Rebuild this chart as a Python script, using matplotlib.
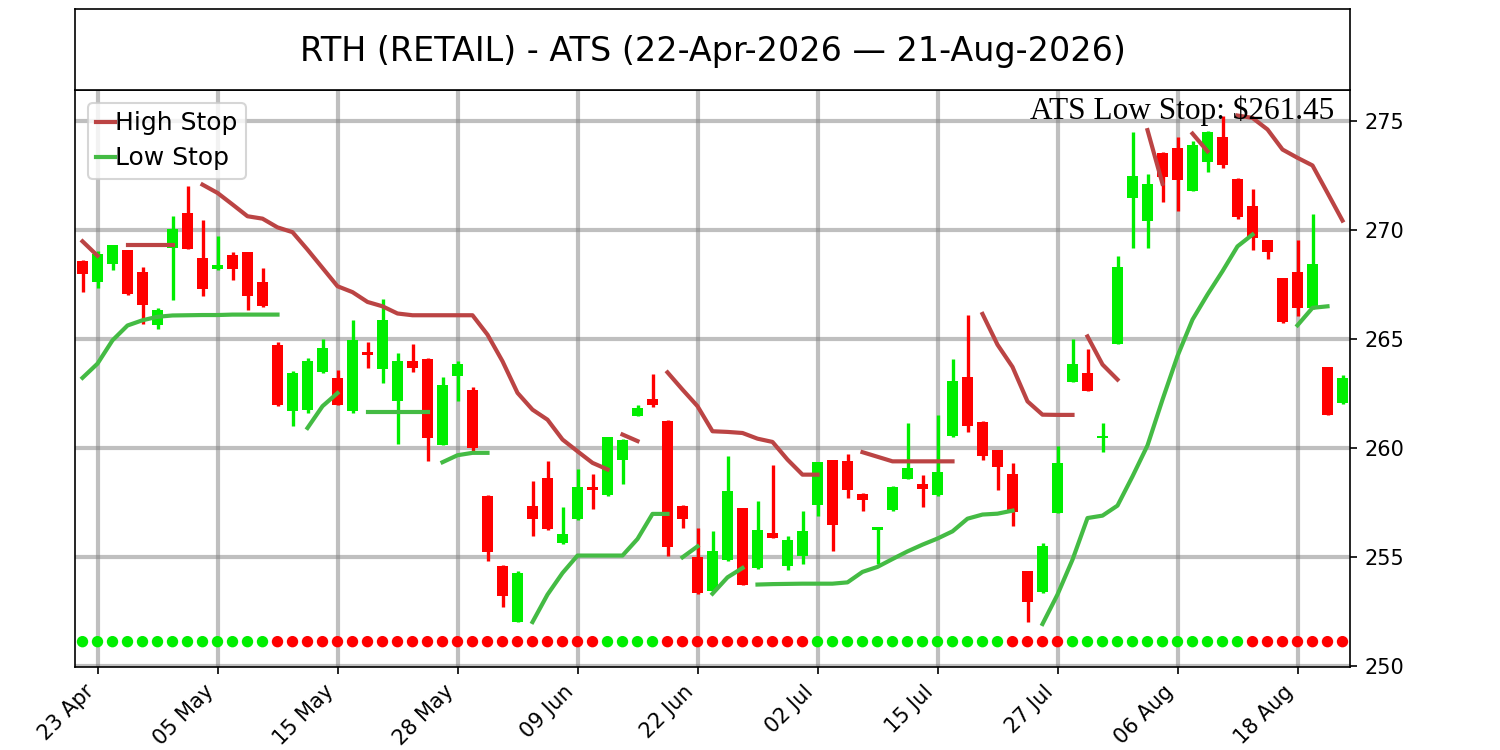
import matplotlib
matplotlib.use("Agg")
import matplotlib.pyplot as plt
import numpy as np
import pandas as pd

# trading days 22-Apr-2026 .. 21-Aug-2026 (US market holidays removed)
holidays = ["2026-05-25", "2026-06-19", "2026-07-03"]
dates = pd.bdate_range("2026-04-22", "2026-08-21", freq="C", holidays=holidays)

opens = [268.55, 267.6, 268.43, 269.04, 268.04, 265.6, 269.16, 270.77, 268.7, 268.17,
         268.82, 268.98, 267.6, 264.72, 261.67, 261.71, 263.45, 263.2, 261.67, 264.4,
         263.6, 262.12, 263.99, 264.08, 260.14, 263.27, 262.66, 257.8, 254.59, 251.99,
         257.34, 258.61, 255.63, 256.73, 258.18, 257.81, 259.45, 261.47, 262.25, 261.24,
         257.34, 254.99, 253.41, 254.83, 257.23, 254.48, 256.09, 254.56, 255.05, 257.39,
         259.45, 259.37, 257.88, 256.24, 257.12, 258.56, 258.35, 257.81, 260.52, 263.24,
         261.16, 259.88, 258.81, 254.36, 253.38, 257.0, 263.0, 263.43, 260.44, 264.76,
         271.45, 270.41, 273.52, 273.75, 271.76, 273.1, 274.25, 272.33, 271.07, 269.5,
         267.78, 268.04, 266.38, 263.68, 262.05]
highs = [268.6, 269.0, 269.3, 269.05, 268.3, 266.4, 270.6, 272.0, 270.46, 269.7,
         268.96, 268.98, 268.24, 264.85, 263.53, 264.11, 264.99, 263.58, 265.84, 264.83,
         266.82, 264.34, 264.77, 264.1, 263.24, 263.96, 262.77, 257.82, 254.6, 254.36,
         258.45, 259.37, 257.28, 259.04, 258.81, 260.5, 260.4, 261.97, 263.39, 261.25,
         257.35, 256.32, 256.16, 259.6, 257.25, 257.54, 259.19, 255.96, 257.08, 259.35,
         259.45, 259.72, 257.9, 256.36, 258.25, 261.13, 258.76, 261.51, 264.08, 266.06,
         261.2, 259.9, 259.3, 254.36, 255.63, 260.09, 264.99, 264.53, 261.13, 268.81,
         274.46, 272.55, 273.55, 274.25, 274.08, 274.5, 275.23, 272.35, 271.88, 269.5,
         267.8, 269.5, 270.73, 263.7, 263.35]
lows = [267.15, 267.3, 268.13, 267.0, 265.67, 265.45, 266.76, 269.1, 266.94, 268.15,
        267.7, 266.3, 266.45, 261.9, 260.98, 261.59, 263.4, 261.95, 261.6, 263.65,
        262.97, 260.18, 263.45, 259.37, 260.1, 262.12, 259.83, 254.78, 252.67, 251.98,
        255.96, 256.21, 255.6, 256.7, 257.2, 257.8, 258.35, 261.45, 261.85, 255.01,
        256.32, 253.3, 253.4, 254.8, 253.7, 254.45, 255.85, 254.37, 254.68, 256.88,
        255.24, 257.69, 257.08, 254.68, 257.1, 258.55, 257.26, 257.8, 260.5, 260.7,
        259.45, 258.04, 256.39, 251.99, 253.33, 257.0, 263.0, 262.6, 259.78, 264.75,
        269.16, 269.16, 271.25, 270.84, 271.75, 272.63, 272.8, 270.5, 269.05, 268.67,
        265.7, 266.02, 266.35, 261.5, 262.0]
closes = [267.94, 268.9, 269.3, 267.05, 266.56, 266.33, 270.03, 269.11, 267.28, 268.39,
          268.2, 266.97, 266.48, 261.97, 263.43, 263.99, 264.57, 261.97, 264.95, 264.23,
          265.83, 263.96, 263.66, 260.44, 262.89, 263.85, 259.99, 255.2, 253.21, 254.25,
          256.73, 256.27, 256.04, 258.2, 258.04, 260.49, 260.37, 261.82, 261.97, 255.43,
          256.73, 253.33, 255.28, 258.03, 253.72, 256.24, 255.86, 255.78, 256.19, 259.34,
          256.44, 258.07, 257.61, 256.36, 258.2, 259.07, 258.1, 258.89, 263.07, 260.98,
          259.6, 259.1, 257.05, 252.9, 255.5, 259.3, 263.84, 262.61, 260.52, 268.29,
          272.45, 272.09, 272.4, 272.25, 273.9, 274.48, 272.95, 270.56, 269.62, 268.98,
          265.76, 266.38, 268.44, 261.51, 263.17]

# stop lines, drawn as separate pieces: (first day index, values)
high_stop_segments = [
    (0, [269.46, 268.8]),
    (3, [269.3, 269.3, 269.3, 269.3]),
    (8, [272.06, 271.68, 271.15, 270.61, 270.5, 270.1, 269.88, 269.08, 268.24, 267.4,
         267.13, 266.68, 266.48, 266.15, 266.07, 266.07, 266.07, 266.07, 266.07, 265.18,
         263.96, 262.51, 261.74, 261.28, 260.37, 259.83, 259.3, 259.0]),
    (36, [260.6, 260.3]),
    (39, [263.45, 262.66, 261.9, 260.75, 260.72, 260.67, 260.41, 260.26, 259.45, 258.76, 258.76]),
    (52, [259.79, 259.58, 259.37, 259.37, 259.37, 259.37, 259.37]),
    (60, [266.13, 264.72, 263.7, 262.12, 261.51, 261.5, 261.5]),
    (67, [265.1, 263.81, 263.12]),
    (71, [274.56, 272.1]),
    (74, [274.4, 273.59]),
    (77, [275.23, 275.12, 274.59, 273.67, 273.29, 272.94, 271.68, 270.41]),
]
low_stop_segments = [
    (0, [263.2, 263.85, 264.92, 265.6, 265.84, 266.0, 266.06, 266.07, 266.08, 266.08,
         266.1, 266.1, 266.1, 266.1]),
    (15, [260.9, 261.9, 262.5]),
    (19, [261.62, 261.62, 261.62, 261.62, 261.62]),
    (24, [259.33, 259.65, 259.76, 259.76]),
    (30, [252.0, 253.26, 254.25, 255.05, 255.05, 255.05, 255.05, 255.81, 256.96, 256.96]),
    (40, [254.97, 255.47]),
    (42, [253.3, 254.05, 254.48]),
    (45, [253.72, 253.74, 253.75, 253.76, 253.76, 253.76, 253.82, 254.3, 254.53, 254.89,
          255.24, 255.55, 255.83, 256.16, 256.74, 256.93, 256.97, 257.11]),
    (64, [251.91, 253.26, 254.86, 256.77, 256.88, 257.34, 258.68, 260.1, 262.2, 264.2,
          265.87, 267.02, 268.09, 269.23, 269.77]),
    (81, [265.61, 266.41, 266.48]),
]

# 1 = long (green dot), 0 = short (red dot)
trend = ([1] * 13 + [0] * 22 + [1] * 4 + [0] * 10 + [1] * 13 + [0] * 4 + [1] * 12 + [0] * 7)

low_stop_text = "ATS Low Stop: $261.45"
title = "RTH (RETAIL) - ATS (22-Apr-2026 \u2014 21-Aug-2026)"

UP = "#00ee00"
DOWN = "#ff0000"
HIGH_C = "#bb4444"
LOW_C = "#44bb44"

fig = plt.figure(figsize=(10, 5), dpi=150)
ax = fig.add_axes([0.05, 0.111, 0.85, 0.769])
tax = fig.add_axes([0.05, 0.88, 0.85, 0.108])

x = np.arange(len(dates))
o = np.array(opens); h = np.array(highs); l = np.array(lows); c = np.array(closes)
cols = [UP if cc >= oo else DOWN for oo, cc in zip(o, c)]

ax.vlines(x, l, h, colors=cols, linewidth=1.6, zorder=2)
body = np.maximum(np.abs(c - o), 0.06)
ax.bar(x, body, bottom=np.minimum(o, c), width=0.7, color=cols, zorder=2)

for k, (start, vals) in enumerate(high_stop_segments):
    xs = np.arange(start, start + len(vals))
    ax.plot(xs, vals, color=HIGH_C, lw=2.0, zorder=3, label="High Stop" if k == 0 else None)
for k, (start, vals) in enumerate(low_stop_segments):
    xs = np.arange(start, start + len(vals))
    ax.plot(xs, vals, color=LOW_C, lw=2.0, zorder=3, label="Low Stop" if k == 0 else None)

dot_cols = [UP if t else DOWN for t in trend]
ax.scatter(x, np.full(len(x), 251.1), c=dot_cols, s=30, zorder=3, linewidths=0)

ax.set_xlim(-0.5, len(x) - 0.5)
ax.set_ylim(249.95, 276.4)
ax.set_yticks([250, 255, 260, 265, 270, 275])
ax.yaxis.tick_right()
ticks = x[1::8]
ax.set_xticks(ticks)
ax.set_xticklabels([dates[i].strftime("%d %b") for i in ticks], rotation=45, ha="right")
ax.tick_params(labelsize=10)
ax.grid(True, color="gray", alpha=0.5, linewidth=2)
ax.set_axisbelow(True)

ax.legend(loc="upper left", fontsize=12, handlelength=0.75, handletextpad=0.0,
          labelspacing=0.45, borderpad=0.35)
ax.text(0.988, 0.99, low_stop_text, transform=ax.transAxes, ha="right", va="top",
        fontsize=15, family="Liberation Serif", zorder=5)

tax.set_xticks([])
tax.set_yticks([])
tax.text(0.5, 0.48, title, ha="center", va="center", fontsize=16, transform=tax.transAxes)

fig.savefig("out.png", dpi=150)
